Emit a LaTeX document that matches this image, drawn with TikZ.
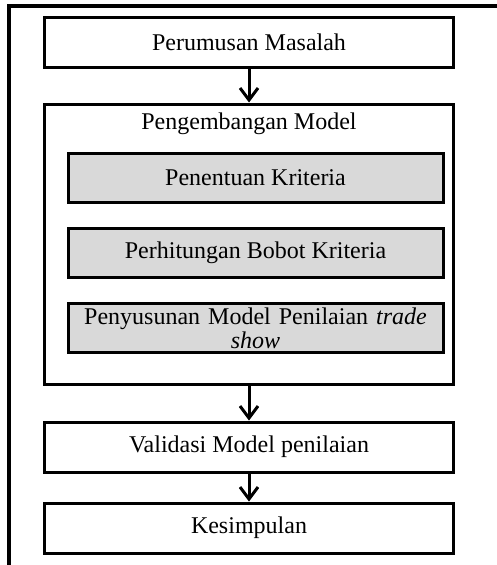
\documentclass[tikz,border=0pt]{standalone}
\usepackage{fontspec}
\setmainfont{Liberation Serif}
\usetikzlibrary{arrows.meta}
\definecolor{boxgray}{HTML}{D9D9D9}
\begin{document}
\begin{tikzpicture}[x=1pt,y=-1pt,
    stepbox/.style={draw,line width=3pt,minimum width=409pt,minimum height=50pt,
      inner sep=0pt,font=\fontsize{24}{24}\selectfont},
    subbox/.style={stepbox,fill=boxgray,minimum width=375pt,minimum height=49pt},
    flow/.style={line width=3pt,-{Straight Barb[length=12pt,width=18pt]}}]
  \useasboundingbox (0,0) rectangle (497,565);
  % frame of the page, only top and left visible
  \draw[line width=3.5pt] (497,6) -- (9,6) -- (9,565);

  \node[stepbox] (rumus) at (249,42) {Perumusan Masalah};
  \node[stepbox,minimum height=280pt] (model) at (249,244) {};
  \node[font=\fontsize{24}{24}\selectfont] (judul) at (249,124) {Pengembangan Model};
  \node[subbox] (kriteria) at (255.5,177.5) {Penentuan Kriteria};
  \node[subbox] (bobot) at (255.5,252.5) {Perhitungan Bobot Kriteria};
  \node[subbox,align=center,text width=370pt] (nilai) at (255.5,328)
    {Penyusunan Model Penilaian \textit{trade}\\\textit{show}};
  \node[stepbox] (validasi) at (249,447) {Validasi Model penilaian};
  \node[stepbox] (simpul) at (249,528) {Kesimpulan};

  \draw[flow] (rumus) -- (model);
  \draw[flow] (model) -- (validasi);
  \draw[flow] (validasi) -- (simpul);
\end{tikzpicture}
\end{document}
